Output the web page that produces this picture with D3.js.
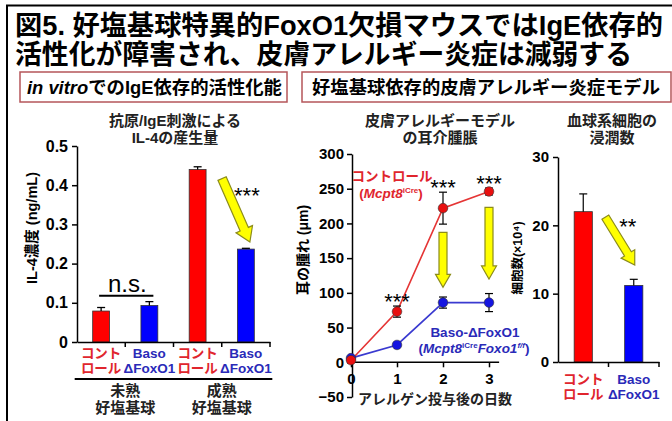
<!DOCTYPE html>
<html><head><meta charset="utf-8">
<script src="https://cdn.jsdelivr.net/npm/d3@7"></script>
<style>
html,body{margin:0;padding:0;background:#fff;}
svg{display:block;font-family:"Liberation Sans",Arial,"Noto Sans CJK JP",sans-serif;}
</style></head>
<body>
<svg id="chart" width="672" height="421"></svg>
<script>
// ---------- DATA ----------
const titleLines = ["図5. 好塩基球特異的FoxO1欠損マウスではIgE依存的", "活性化が障害され、皮膚アレルギー炎症は減弱する"];
const sectionLeft = "でのIgE依存的活性化能";
const sectionRight = "好塩基球依存的皮膚アレルギー炎症モデル";

// Panel 1: IL-4 production
const il4Titles = ["抗原/IgE刺激による", "IL-4の産生量"];
const il4Categories = ["ctrl-imm", "baso-imm", "ctrl-mat", "baso-mat"];
const il4Labels = [["コント", "ロール"], ["Baso", "ΔFoxO1"], ["コント", "ロール"], ["Baso", "ΔFoxO1"]];
const il4Values = [0.079, 0.093, 0.44, 0.237];
const il4Errors = [0.009, 0.010, 0.007, 0.002];
const il4Groups = [["未熟", "好塩基球"], ["成熟", "好塩基球"]];
const il4Ticks = [0, 0.1, 0.2, 0.3, 0.4, 0.5];
const il4TickLabels = ["0", "0.1", "0.2", "0.3", "0.4", "0.5"];
const il4YLabel = "IL-4濃度 (ng/mL)";

// Panel 2: ear swelling
const swellTitles = ["皮膚アレルギーモデル", "の耳介腫脹"];
const days = [0, 1, 2, 3];
const ctrlSwelling = [3, 73, 222, 246];
const ctrlSwellingErr = [3, 8, 23, 5];
const basoSwelling = [6, 25, 86, 86];
const basoSwellingErr = [2, 2, 8, 13];
const swellTicks = [-50, 0, 50, 100, 150, 200, 250, 300];
const swellSig = [null, "***", "***", "***"];
const swellYLabel = "耳の腫れ (μm)";
const swellXLabel = "アレルゲン投与後の日数";

// Panel 3: infiltrating cells
const cellTitles = ["血球系細胞の", "浸潤数"];
const cellCategories = ["ctrl", "baso"];
const cellLabels = [["コント", "ロール"], ["Baso", "ΔFoxO1"]];
const cellValues = [22, 11.2];
const cellErrors = [2.6, 0.9];
const cellTicks = [0, 10, 20, 30];
const cellYLabel = "細胞数(×10⁴)";

// ---------- STYLE ----------
const RED = "#ff0000", BLUE = "#0000ff";
const RED_T = "#e0252d", BLUE_T = "#2a2ab8";
const YEL = "#ffff00", YEL_S = "#8c8c1a";

const svg = d3.select("#chart");

// frame
svg.append("path").attr("d", "M7,421 V5.5 H672").attr("fill", "none").attr("stroke", "#000").attr("stroke-width", 2);

// title
svg.append("text").attr("x", 15).attr("y", 35).attr("font-size", 27).attr("font-weight", "bold")
  .attr("textLength", 648).attr("lengthAdjust", "spacingAndGlyphs").text(titleLines[0]);
svg.append("text").attr("x", 15).attr("y", 64).attr("font-size", 27).attr("font-weight", "bold")
  .attr("textLength", 617).attr("lengthAdjust", "spacingAndGlyphs").text(titleLines[1]);

// section boxes
svg.append("rect").attr("x", 20).attr("y", 72).attr("width", 267).attr("height", 30)
  .attr("fill", "none").attr("stroke", "#b5565a").attr("stroke-width", 1.5);
const st1 = svg.append("text").attr("x", 27).attr("y", 94).attr("font-size", 18).attr("font-weight", "bold")
  .attr("textLength", 255).attr("lengthAdjust", "spacingAndGlyphs");
st1.append("tspan").attr("font-style", "italic").text("in vitro");
st1.append("tspan").text(sectionLeft);
svg.append("rect").attr("x", 302).attr("y", 72).attr("width", 369).attr("height", 30)
  .attr("fill", "none").attr("stroke", "#b5565a").attr("stroke-width", 1.5);
svg.append("text").attr("x", 312).attr("y", 94).attr("font-size", 18).attr("font-weight", "bold")
  .attr("textLength", 348).attr("lengthAdjust", "spacingAndGlyphs").text(sectionRight);

function styleAxis(g, fs) {
  g.select(".domain").attr("stroke", "#000").attr("stroke-width", 1.5);
  g.selectAll(".tick line").attr("stroke", "#000").attr("stroke-width", 1.5);
  g.selectAll(".tick text").attr("font-size", fs).attr("font-weight", "bold").attr("fill", "#000")
    .attr("font-family", "'Liberation Sans',Arial,sans-serif");
}
function arrow(g, x1, y1, x2, y2, sw, hw, hl) {
  const dx = x2 - x1, dy = y2 - y1, L = Math.hypot(dx, dy);
  const ux = dx / L, uy = dy / L, px = -uy, py = ux;
  const bx = x2 - ux * hl, by = y2 - uy * hl;
  const pts = [
    [x1 + px * sw / 2, y1 + py * sw / 2], [bx + px * sw / 2, by + py * sw / 2],
    [bx + px * hw / 2, by + py * hw / 2], [x2, y2],
    [bx - px * hw / 2, by - py * hw / 2], [bx - px * sw / 2, by - py * sw / 2],
    [x1 - px * sw / 2, y1 - py * sw / 2]];
  g.append("path").attr("d", "M" + pts.map(p => p.join(",")).join("L") + "Z")
    .attr("fill", YEL).attr("stroke", YEL_S).attr("stroke-width", 1.2).attr("stroke-linejoin", "miter");
}
function title2(cx, lines) {
  lines.forEach((t, i) => svg.append("text").attr("x", cx).attr("y", 126 + i * 17)
    .attr("text-anchor", "middle").attr("font-size", 15).attr("font-weight", "bold").attr("fill", "#222").text(t));
}
function ylabel(x, y, t, fs) {
  svg.append("text").attr("transform", `translate(${x},${y}) rotate(-90)`).attr("text-anchor", "middle")
    .attr("font-size", fs).attr("font-weight", "bold").text(t);
}

// ---------- PANEL 1 ----------
{
  const x = d3.scaleBand().domain(il4Categories).range([77, 270]).paddingInner(0.65).paddingOuter(0.325);
  const y = d3.scaleLinear().domain([0, 0.5]).range([342, 146]);
  title2(175, il4Titles);
  ylabel(37, 228, il4YLabel, 14.5);
  const g = svg.append("g");
  const ya = g.append("g").attr("transform", "translate(77,0)")
    .call(d3.axisLeft(y).tickValues(il4Ticks).tickFormat((d, i) => il4TickLabels[i]).tickSize(5).tickSizeOuter(0).tickPadding(4));
  styleAxis(ya, 16);
  // bars
  g.selectAll(".b").data(il4Values).join("rect")
    .attr("x", (d, i) => x(il4Categories[i])).attr("width", x.bandwidth())
    .attr("y", d => y(d)).attr("height", d => y(0) - y(d))
    .attr("fill", (d, i) => i % 2 ? BLUE : RED).attr("stroke", "#333").attr("stroke-width", 0.8);
  // error bars
  il4Values.forEach((v, i) => {
    const cx = x(il4Categories[i]) + x.bandwidth() / 2;
    g.append("line").attr("x1", cx).attr("x2", cx).attr("y1", y(v)).attr("y2", y(v + il4Errors[i])).attr("stroke", "#000").attr("stroke-width", 1.3);
    g.append("line").attr("x1", cx - 4).attr("x2", cx + 4).attr("y1", y(v + il4Errors[i])).attr("y2", y(v + il4Errors[i])).attr("stroke", "#000").attr("stroke-width", 1.3);
  });
  // x axis line + band boundary ticks
  const xa = g.append("g").attr("transform", "translate(0,342)")
    .call(d3.axisBottom(x).tickSize(0).tickFormat(""));
  xa.select(".domain").attr("stroke", "#000").attr("stroke-width", 1.5);
  il4Categories.forEach(c => {
    const bx = x(c) - x.step() * x.paddingInner() / 2 + x.step();
    g.append("line").attr("x1", bx).attr("x2", bx).attr("y1", 342).attr("y2", 347).attr("stroke", "#000").attr("stroke-width", 1.5);
  });
  // category labels
  il4Labels.forEach((lab, i) => {
    const cx = x(il4Categories[i]) + x.bandwidth() / 2;
    lab.forEach((t, j) => g.append("text").attr("x", cx).attr("y", 358 + j * 15).attr("text-anchor", "middle")
      .attr("font-size", 13.5).attr("font-weight", "bold").attr("fill", i % 2 ? BLUE_T : RED_T).text(t));
  });
  // group underline + group labels
  il4Groups.forEach((lab, k) => {
    const a = x(il4Categories[2 * k]) - 18, b = x(il4Categories[2 * k + 1]) + x.bandwidth() + 18;
    g.append("line").attr("x1", a).attr("x2", b).attr("y1", 379).attr("y2", 379).attr("stroke", "#000").attr("stroke-width", 2);
    lab.forEach((t, j) => g.append("text").attr("x", (a + b) / 2).attr("y", 396 + j * 17).attr("text-anchor", "middle")
      .attr("font-size", 15).attr("font-weight", "bold").attr("fill", "#222").text(t));
  });
  // n.s.
  const c0 = x(il4Categories[0]) + x.bandwidth() / 2, c1 = x(il4Categories[1]) + x.bandwidth() / 2;
  g.append("line").attr("x1", c0 - 2).attr("x2", c1 + 4).attr("y1", y(0.118)).attr("y2", y(0.118)).attr("stroke", "#000").attr("stroke-width", 2);
  g.append("text").attr("x", (c0 + c1) / 2 + 2).attr("y", y(0.127)).attr("text-anchor", "middle").attr("font-size", 24).text("n.s.");
  // arrow + ***
  const c3 = x(il4Categories[3]) + x.bandwidth() / 2;
  arrow(g, x(il4Categories[2]) + x.bandwidth() + 16, y(0.417), c3 + 4, y(0.255), 9, 18, 14);
  g.append("text").attr("x", c3 + 1).attr("y", y(0.355)).attr("text-anchor", "middle").attr("font-size", 22).text("***");
}

// ---------- PANEL 2 ----------
{
  const x = d3.scaleLinear().domain([0, 3]).range([351, 489]);
  const y = d3.scaleLinear().domain([-50, 300]).range([397, 154]);
  title2(440, swellTitles);
  ylabel(308, 250, swellYLabel, 14);
  const g = svg.append("g");
  const ya = g.append("g").attr("transform", "translate(352,0)")
    .call(d3.axisLeft(y).tickValues(swellTicks).tickSize(5).tickSizeOuter(0).tickPadding(3));
  styleAxis(ya, 15);
  const xa = g.append("g").attr("transform", `translate(0,${y(0)})`)
    .call(d3.axisBottom(x).tickValues(days).tickFormat(d3.format("d")).tickSize(5).tickSizeOuter(0).tickPadding(6));
  styleAxis(xa, 15);
  xa.select(".domain").attr("d", `M${x(0)},0H${x(3.22)}`);
  g.append("text").attr("x", 435).attr("y", 404).attr("text-anchor", "middle").attr("font-size", 14).attr("font-weight", "bold")
    .attr("fill", "#222").text(swellXLabel);

  const series = [
    { v: basoSwelling, e: basoSwellingErr, line: "#3a3ad0", dot: "#1515e0" },
    { v: ctrlSwelling, e: ctrlSwellingErr, line: "#e53535", dot: "#e81010" }];
  series.forEach(s => {
    g.append("path").datum(days).attr("fill", "none").attr("stroke", s.line).attr("stroke-width", 1.6)
      .attr("d", d3.line().x(d => x(d)).y((d, i) => y(s.v[i])));
  });
  series.forEach(s => {
    days.forEach((d, i) => {
      if (s.e[i] > 4) {
        g.append("line").attr("x1", x(d)).attr("x2", x(d)).attr("y1", y(s.v[i] - s.e[i])).attr("y2", y(s.v[i] + s.e[i])).attr("stroke", "#000").attr("stroke-width", 1.2);
        [-1, 1].forEach(k => g.append("line").attr("x1", x(d) - 4).attr("x2", x(d) + 4)
          .attr("y1", y(s.v[i] + k * s.e[i])).attr("y2", y(s.v[i] + k * s.e[i])).attr("stroke", "#000").attr("stroke-width", 1.2));
      }
    });
    g.selectAll(null).data(days).join("circle").attr("cx", d => x(d)).attr("cy", (d, i) => y(s.v[i])).attr("r", 4.8)
      .attr("fill", s.dot).attr("stroke", "#333").attr("stroke-width", 0.6);
  });
  // significance
  days.forEach((d, i) => {
    if (!swellSig[i]) return;
    g.append("text").attr("x", x(d)).attr("y", y(ctrlSwelling[i] + ctrlSwellingErr[i]) + 3)
      .attr("text-anchor", "middle").attr("font-size", 22).text(swellSig[i]);
  });
  // down arrows
  arrow(g, x(2), y(187), x(2), y(108), 8, 15, 13);
  arrow(g, x(3), y(223), x(3), y(120), 8, 15, 13);
  // legend texts
  g.append("text").attr("x", 392).attr("y", 181).attr("text-anchor", "middle").attr("font-size", 13.5).attr("font-weight", "bold").attr("fill", RED_T).text("コントロール");
  const l1 = g.append("text").attr("x", 391).attr("y", 198).attr("text-anchor", "middle").attr("font-size", 13.5).attr("font-weight", "bold").attr("fill", RED_T);
  l1.append("tspan").text("(");
  l1.append("tspan").attr("font-style", "italic").text("Mcpt8");
  l1.append("tspan").attr("font-size", 8).attr("dy", -5).text("iCre");
  l1.append("tspan").attr("dy", 5).text(")");
  g.append("text").attr("x", 475).attr("y", 337).attr("text-anchor", "middle").attr("font-size", 13.5).attr("font-weight", "bold").attr("fill", BLUE_T).text("Baso-ΔFoxO1");
  const l2 = g.append("text").attr("x", 474).attr("y", 353).attr("text-anchor", "middle").attr("font-size", 13.5).attr("font-weight", "bold").attr("fill", BLUE_T);
  l2.append("tspan").text("(");
  l2.append("tspan").attr("font-style", "italic").text("Mcpt8");
  l2.append("tspan").attr("font-size", 8).attr("dy", -5).text("iCre");
  l2.append("tspan").attr("font-style", "italic").attr("dy", 5).text("Foxo1");
  l2.append("tspan").attr("font-size", 8).attr("font-style", "italic").attr("dy", -5).text("f/f");
  l2.append("tspan").attr("dy", 5).text(")");
}

// ---------- PANEL 3 ----------
{
  const x = d3.scaleBand().domain(cellCategories).range([558, 659]).paddingInner(0.64).paddingOuter(0.32);
  const y = d3.scaleLinear().domain([0, 30]).range([362, 157]);
  title2(612, cellTitles);
  ylabel(522, 258, cellYLabel, 12.5);
  const g = svg.append("g");
  const ya = g.append("g").attr("transform", "translate(558,0)")
    .call(d3.axisLeft(y).tickValues(cellTicks).tickSize(5).tickSizeOuter(0).tickPadding(4));
  styleAxis(ya, 15);
  g.selectAll(".b").data(cellValues).join("rect")
    .attr("x", (d, i) => x(cellCategories[i])).attr("width", x.bandwidth())
    .attr("y", d => y(d)).attr("height", d => y(0) - y(d))
    .attr("fill", (d, i) => i ? BLUE : RED).attr("stroke", "#333").attr("stroke-width", 0.8);
  cellValues.forEach((v, i) => {
    const cx = x(cellCategories[i]) + x.bandwidth() / 2;
    g.append("line").attr("x1", cx).attr("x2", cx).attr("y1", y(v)).attr("y2", y(v + cellErrors[i])).attr("stroke", "#000").attr("stroke-width", 1.2);
    g.append("line").attr("x1", cx - 4).attr("x2", cx + 4).attr("y1", y(v + cellErrors[i])).attr("y2", y(v + cellErrors[i])).attr("stroke", "#000").attr("stroke-width", 1.2);
  });
  const xa = g.append("g").attr("transform", "translate(0,362)")
    .call(d3.axisBottom(x).tickSize(0).tickFormat(""));
  xa.select(".domain").attr("stroke", "#000").attr("stroke-width", 1.5);
  cellCategories.forEach(c => {
    const bx = x(c) - x.step() * x.paddingInner() / 2 + x.step();
    g.append("line").attr("x1", bx).attr("x2", bx).attr("y1", 362).attr("y2", 367).attr("stroke", "#000").attr("stroke-width", 1.5);
  });
  cellLabels.forEach((lab, i) => {
    const cx = x(cellCategories[i]) + x.bandwidth() / 2;
    lab.forEach((t, j) => g.append("text").attr("x", cx).attr("y", 384 + j * 15).attr("text-anchor", "middle")
      .attr("font-size", 13.5).attr("font-weight", "bold").attr("fill", i ? BLUE_T : RED_T).text(t));
  });
  const c1 = x(cellCategories[1]) + x.bandwidth() / 2;
  arrow(g, x(cellCategories[0]) + x.bandwidth() + 13, y(21.2), c1 + 1, y(14.2), 8, 16, 13);
  g.append("text").attr("x", c1 - 6).attr("y", y(18.7)).attr("text-anchor", "middle").attr("font-size", 22).text("**");
}
</script>
</body></html>
